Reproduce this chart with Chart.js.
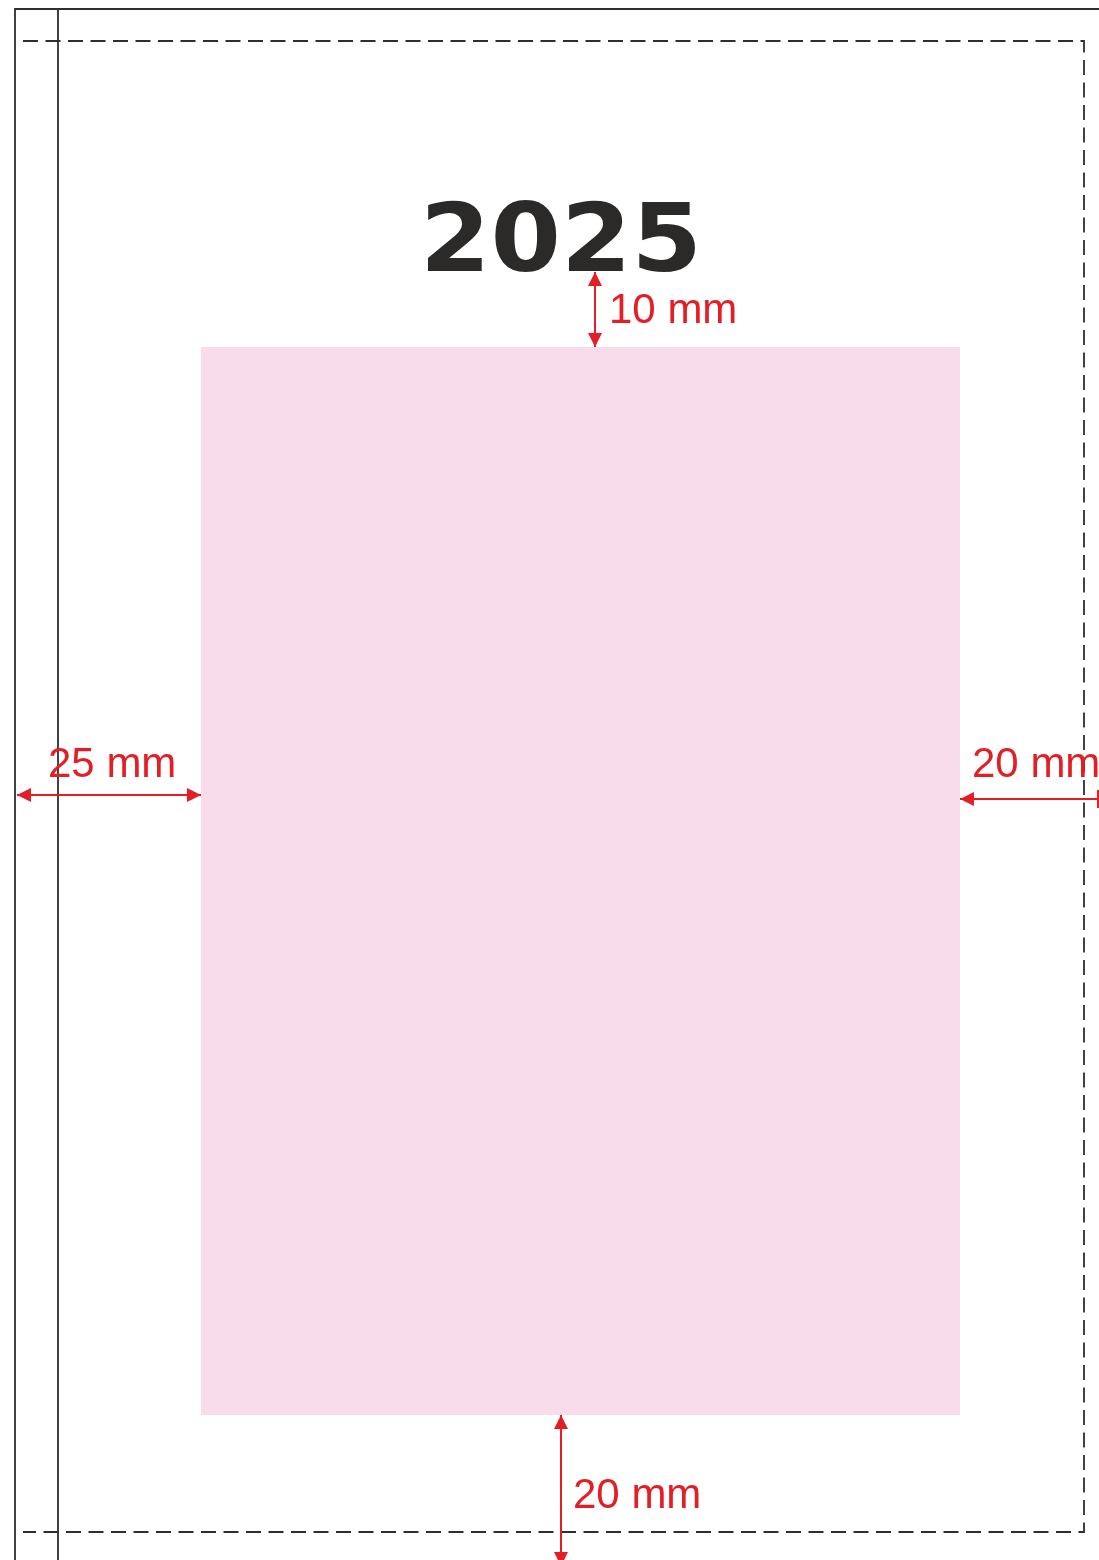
<!DOCTYPE html>
<html>
<head>
<meta charset="utf-8">
<title>2025</title>
<script src="https://cdn.jsdelivr.net/npm/chart.js@4.4.1/dist/chart.umd.min.js"></script>
<style>
  html, body { margin: 0; padding: 0; background: #fff; }
  canvas { display: block; }
</style>
</head>
<body>
<canvas id="layoutChart" width="1099" height="1560"></canvas>
<script>
// Unidades del dibujo (1 unidad ≈ 1 px de la referencia)
const pageW = 1099;
const pageH = 1560;

// Bordes de página (trazo continuo)
const edgeX = [15, 58];
const edgeTop = 9;

// Línea de corte (discontinua, abierta a la izquierda)
const trimX = [23, 1084];
const trimY = [41, 1532];

// Mancha rosa
const blockX = [201, 960];
const blockY = [347, 1415];

// Cotas: [x1, y1, x2, y2]
const dimTop = [595, 272, 595, 347];
const dimLeft = [17, 795, 201, 795];
const dimRight = [960, 799, 1098, 799];
const dimBottom = [561, 1415, 561, 1566];

// Textos
const titleText = '2025';
const titlePos = [561, 271];
const dimLabels = ['10 mm', '25 mm', '20 mm', '20 mm'];
const dimLabelX = [609, 48, 972, 573];
const dimLabelY = [323, 777, 777, 1508];

const RED = '#e31e25';
const GREY = '#2e2e2e';

// Punta de flecha: la punta queda en el centro del canvas (apunta a la izquierda)
function crearPunta(largo, medio) {
  const c = document.createElement('canvas');
  c.width = largo * 2;
  c.height = medio * 2;
  const g = c.getContext('2d');
  g.fillStyle = RED;
  g.beginPath();
  g.moveTo(largo, medio);
  g.lineTo(largo * 2, 0);
  g.lineTo(largo * 2, medio * 2);
  g.closePath();
  g.fill();
  return c;
}
const punta = crearPunta(14, 7);

function pts(arr) {
  return [{ x: arr[0], y: arr[1] }, { x: arr[2], y: arr[3] }];
}

function linea(data, extra) {
  return Object.assign({
    data: data,
    showLine: true,
    fill: false,
    borderColor: GREY,
    borderWidth: 1.8,
    pointRadius: 0,
    tension: 0
  }, extra || {});
}

function cota(arr, rotaciones, estilos) {
  return linea(pts(arr), {
    borderColor: RED,
    borderWidth: 2,
    pointStyle: estilos || [punta, punta],
    pointRotation: rotaciones,
    pointRadius: 9,
    pointBorderColor: RED,
    pointBorderWidth: 2,
    pointBackgroundColor: RED,
    order: 1
  });
}

const datasets = [
  // mancha rosa
  linea([{ x: blockX[0], y: blockY[0] }, { x: blockX[1], y: blockY[0] }], {
    borderWidth: 0,
    fill: { value: blockY[1] },
    backgroundColor: '#f9dcea',
    order: 10
  }),
  // bordes de página
  linea([{ x: edgeX[0], y: pageH }, { x: edgeX[0], y: edgeTop }, { x: pageW, y: edgeTop }], { order: 5 }),
  linea([{ x: edgeX[1], y: edgeTop }, { x: edgeX[1], y: pageH }], { order: 5 }),
  // corte
  linea([
    { x: trimX[0], y: trimY[0] }, { x: trimX[1], y: trimY[0] },
    { x: trimX[1], y: trimY[1] }, { x: trimX[0], y: trimY[1] }
  ], { borderDash: [15, 7.5], order: 5 }),
  // cotas
  cota(dimTop, [90, 270]),
  cota(dimLeft, [0, 180]),
  cota(dimRight, [0, 90], [punta, 'line']),
  cota(dimBottom, [90, 270])
];

// Plugin de textos
const textos = {
  id: 'textos',
  afterDatasetsDraw(chart) {
    const { ctx, scales: { x, y } } = chart;
    ctx.save();
    // título (ensanchado para parecerse a una extendida)
    ctx.fillStyle = '#2b2a29';
    ctx.font = 'bold 95px "DejaVu Sans"';
    ctx.textAlign = 'center';
    ctx.textBaseline = 'alphabetic';
    const m = ctx.measureText(titleText);
    const ancho = m.actualBoundingBoxLeft + m.actualBoundingBoxRight;
    const sx = 268 / ancho;
    ctx.translate(x.getPixelForValue(titlePos[0]), y.getPixelForValue(titlePos[1]));
    ctx.scale(sx, 1);
    ctx.fillText(titleText, 0, 0);
    ctx.restore();

    ctx.save();
    ctx.fillStyle = RED;
    ctx.font = '42px "Liberation Sans"';
    ctx.textAlign = 'left';
    ctx.textBaseline = 'alphabetic';
    dimLabels.forEach((t, i) => {
      ctx.fillText(t, x.getPixelForValue(dimLabelX[i]), y.getPixelForValue(dimLabelY[i]));
    });
    ctx.restore();
  }
};

new Chart(document.getElementById('layoutChart'), {
  type: 'scatter',
  data: { datasets: datasets },
  options: {
    responsive: false,
    animation: false,
    layout: { padding: 0, autoPadding: false },
    plugins: { legend: { display: false }, tooltip: { enabled: false } },
    scales: {
      x: { type: 'linear', display: false, min: 0, max: pageW },
      y: { type: 'linear', display: false, min: 0, max: pageH, reverse: true }
    }
  },
  plugins: [textos]
});
</script>
</body>
</html>
